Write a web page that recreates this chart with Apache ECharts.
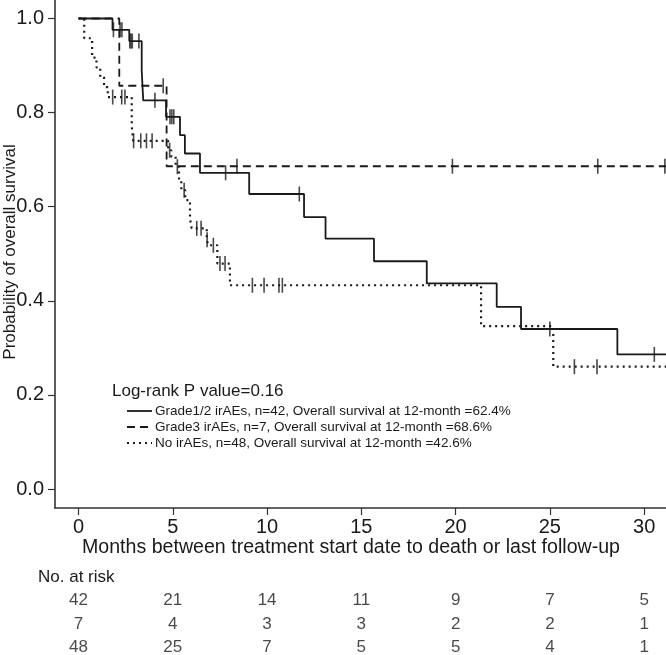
<!DOCTYPE html>
<html>
<head>
<meta charset="utf-8">
<script src="https://cdn.jsdelivr.net/npm/echarts@6/dist/echarts.min.js"></script>
<style>
html,body{margin:0;padding:0;background:#fff;}
#chart{width:666px;height:655px;}
</style>
</head>
<body>
<div id="chart"></div>
<script>
// ---- data ----
const xTicks = [0, 5, 10, 15, 20, 25, 30];
const yTicks = [0, 0.2, 0.4, 0.6, 0.8, 1.0];

const seriesNames = [
  'Grade1/2 irAEs, n=42, Overall survival at 12-month =62.4%',
  'Grade3 irAEs, n=7, Overall survival at 12-month =68.6%',
  'No irAEs, n=48, Overall survival at 12-month =42.6%'
];
const pValueText = 'Log-rank P value=0.16';
const xTitle = 'Months between treatment start date to death or last follow-up';
const yTitle = 'Probability of overall survival';
const riskTitle = 'No. at risk';

// Grade1/2 irAEs (solid)
const g12Times = [0, 1.8, 2.69, 3.35, 3.43, 4.64, 5.38, 5.64, 6.44, 9.05, 11.96, 13.1, 15.67, 18.47, 22.18, 23.47, 28.58, 31.2];
const g12Surv  = [1.0, 0.976, 0.952, 0.889, 0.826, 0.791, 0.752, 0.713, 0.672, 0.627, 0.578, 0.532, 0.484, 0.437, 0.387, 0.34, 0.286, 0.286];
const g12Censor = [1.85, 2.2, 2.3, 2.72, 2.78, 2.85, 3.2, 4.05, 4.85, 4.95, 5.05, 7.8, 11.71, 25.0, 30.54];

// Grade3 irAEs (dashed)
const g3Times = [0, 2.16, 4.67, 31.2];
const g3Surv  = [1.0, 0.857, 0.686, 0.686];
const g3Censor = [4.49, 8.4, 19.83, 27.54, 31.1];

// No irAEs (dotted)
const noTimes = [0, 0.3, 0.72, 0.95, 1.15, 1.35, 1.55, 2.82, 2.9, 4.75, 4.92, 5.15, 5.33, 5.45, 5.66, 5.91, 6.0, 6.8, 6.88, 7.36, 8.03, 21.35, 25.18, 31.2];
const noSurv  = [1.0, 0.958, 0.917, 0.896, 0.875, 0.854, 0.833, 0.771, 0.74, 0.72, 0.706, 0.685, 0.656, 0.635, 0.614, 0.575, 0.554, 0.53, 0.518, 0.479, 0.433, 0.346, 0.26, 0.26];
const noCensor = [1.81, 2.29, 2.46, 2.92, 3.3, 3.6, 3.9, 4.83, 5.24, 5.6, 6.27, 6.5, 6.82, 7.15, 7.5, 7.77, 9.22, 9.84, 10.63, 10.81, 26.3, 27.5];

// Number at risk
const riskTimes = [0, 5, 10, 15, 20, 25, 30];
const riskG12 = [42, 21, 14, 11, 9, 7, 5];
const riskG3  = [7, 4, 3, 3, 2, 2, 1];
const riskNo  = [48, 25, 7, 5, 5, 4, 1];

// ---- helpers ----
function stepAt(times, surv, t) {
  let v = surv[0];
  for (let i = 0; i < times.length; i++) { if (times[i] <= t) v = surv[i]; }
  return v;
}
const toPts = (ts, ss) => ts.map((t, i) => [t, ss[i]]);
const censorPts = (cs, ts, ss) => cs.map(t => [t, stepAt(ts, ss, t)]);

const INK = '#1a1a1a';
const FONT = 'Liberation Sans, Arial, Helvetica, sans-serif';
const X_MIN = -1.25, X_MAX = 31.16;
const STYLES = {
  solid:  { width: 1.8, dash: null },
  dashed: { width: 1.8, dash: [8, 5] },
  dotted: { width: 2.2, dash: [2, 4] }
};

function kmLine(name, ts, ss, kind) {
  const st = STYLES[kind];
  return {
    name: name, type: 'line', step: 'end', symbol: 'none', showSymbol: false,
    xAxisIndex: 0, yAxisIndex: 0, animation: false, clip: true,
    lineStyle: { color: INK, width: st.width, type: st.dash || 'solid' },
    itemStyle: { color: INK },
    data: toPts(ts, ss)
  };
}
function censorSeries(cs, ts, ss) {
  return {
    type: 'scatter', symbol: 'rect', symbolSize: [1.6, 15], animation: false, silent: true,
    xAxisIndex: 0, yAxisIndex: 0, clip: true,
    itemStyle: { color: INK },
    data: censorPts(cs, ts, ss)
  };
}
function riskSeries(row, vals) {
  return {
    type: 'scatter', xAxisIndex: 1, yAxisIndex: 1, symbolSize: 0, animation: false, silent: true,
    label: { show: true, position: 'inside', formatter: p => String(p.value[2]), color: INK, fontSize: 17, fontFamily: FONT },
    data: riskTimes.map((t, i) => [t, row, vals[i]])
  };
}

// manual legend
const legendRows = [411, 427, 443];
const legendKinds = ['solid', 'dashed', 'dotted'];
const legendGraphics = [];
legendKinds.forEach((k, i) => {
  const st = STYLES[k];
  legendGraphics.push({
    type: 'line', shape: { x1: 127, y1: legendRows[i], x2: 152, y2: legendRows[i] },
    style: { stroke: INK, lineWidth: st.width, lineDash: st.dash || null }
  });
  legendGraphics.push({
    type: 'text', x: 155, y: legendRows[i],
    style: { text: seriesNames[i], fontSize: 13.5, fill: INK, fontFamily: FONT, textVerticalAlign: 'middle', verticalAlign: 'middle' }
  });
});

const chart = echarts.init(document.getElementById('chart'), null, { renderer: 'canvas' });
chart.setOption({
  backgroundColor: '#fff',
  animation: false,
  textStyle: { fontFamily: FONT },
  grid: [
    { left: 55, right: 0, top: 0, bottom: 147, containLabel: false, outerBoundsMode: 'none' },
    { left: 55, right: 0, top: 589, height: 70, containLabel: false, outerBoundsMode: 'none' }
  ],
  xAxis: [
    {
      type: 'value', min: X_MIN, max: X_MAX, gridIndex: 0,
      axisLine: { show: true, onZero: false, lineStyle: { color: '#333', width: 1.6 } },
      axisTick: { show: true, customValues: xTicks, length: 7, lineStyle: { color: '#333', width: 1.2 } },
      axisLabel: { show: true, customValues: xTicks, margin: 9, fontSize: 20, color: INK, fontFamily: FONT },
      splitLine: { show: false }
    },
    { type: 'value', min: X_MIN, max: X_MAX, gridIndex: 1, show: false }
  ],
  yAxis: [
    {
      type: 'value', min: -0.0404, max: 1.0393, gridIndex: 0,
      axisLine: { show: true, onZero: false, lineStyle: { color: '#333', width: 1.6 } },
      axisTick: { show: true, customValues: yTicks, length: 7, lineStyle: { color: '#333', width: 1.2 } },
      axisLabel: { show: true, customValues: yTicks, margin: 11, fontSize: 20, color: INK, fontFamily: FONT,
                   formatter: v => v.toFixed(1) },
      splitLine: { show: false }
    },
    { type: 'value', min: -0.5, max: 2.5, inverse: true, gridIndex: 1, show: false }
  ],
  graphic: [
    { type: 'text', x: 10, y: 252, rotation: Math.PI / 2, style: { text: yTitle, fontSize: 17, fill: INK, fontFamily: FONT, textAlign: 'center', align: 'center', textVerticalAlign: 'middle', verticalAlign: 'middle' } },
    { type: 'text', x: 112, y: 391, style: { text: pValueText, fontSize: 17, fill: INK, fontFamily: FONT, textVerticalAlign: 'middle', verticalAlign: 'middle' } },
    { type: 'text', x: 351, y: 548, style: { text: xTitle, fontSize: 19.6, fill: INK, fontFamily: FONT, textAlign: 'center', align: 'center', textVerticalAlign: 'middle', verticalAlign: 'middle' } },
    { type: 'text', x: 38, y: 577, style: { text: riskTitle, fontSize: 17, fill: INK, fontFamily: FONT, textVerticalAlign: 'middle', verticalAlign: 'middle' } }
  ].concat(legendGraphics),
  series: [
    kmLine(seriesNames[0], g12Times, g12Surv, 'solid'),
    kmLine(seriesNames[1], g3Times, g3Surv, 'dashed'),
    kmLine(seriesNames[2], noTimes, noSurv, 'dotted'),
    censorSeries(g12Censor, g12Times, g12Surv),
    censorSeries(g3Censor, g3Times, g3Surv),
    censorSeries(noCensor, noTimes, noSurv),
    riskSeries(0, riskG12),
    riskSeries(1, riskG3),
    riskSeries(2, riskNo)
  ]
});
</script>
</body>
</html>
